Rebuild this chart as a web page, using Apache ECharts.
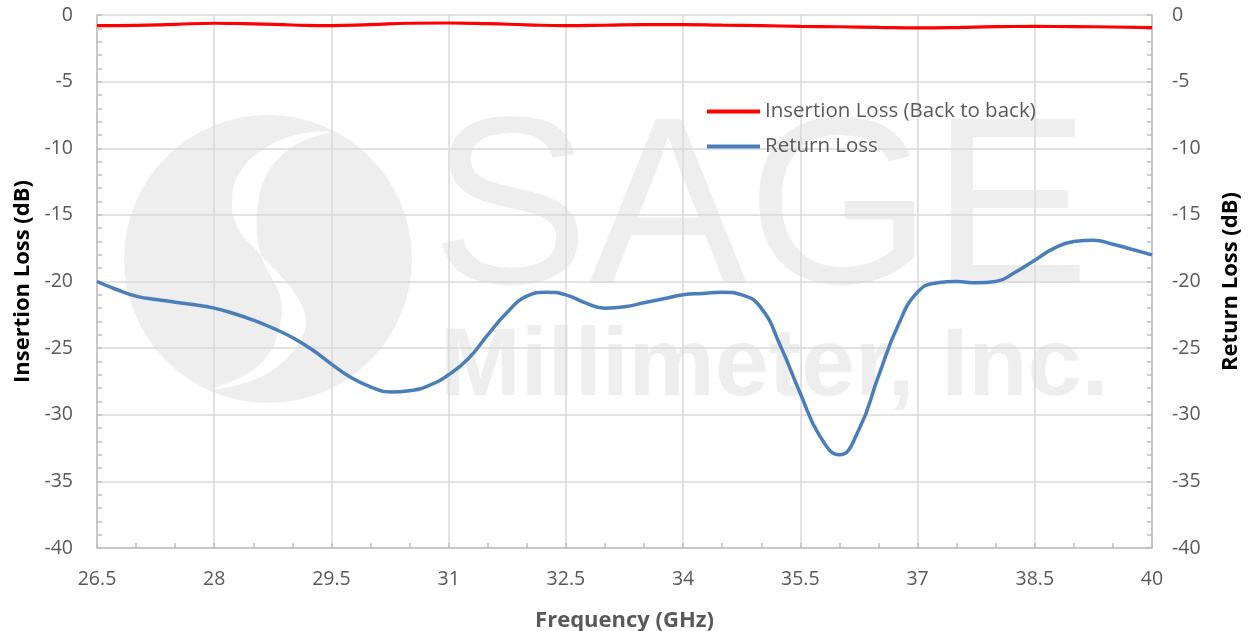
<!DOCTYPE html>
<html>
<head>
<meta charset="utf-8">
<script src="https://cdn.jsdelivr.net/npm/echarts@6/dist/echarts.min.js"></script>
<style>
html,body{margin:0;padding:0;background:#fff;}
#chart{width:1250px;height:631px;}
</style>
</head>
<body>
<div id="chart"></div>
<script>
// Insertion loss readings: frequency (GHz) and value (dB)
const freqsIL = [26.5, 27, 27.5, 28, 28.5, 29, 29.5, 30, 30.5, 31, 31.5, 32, 32.5, 33, 33.5, 34, 34.5, 35, 35.5, 36, 36.5, 37, 37.5, 38, 38.5, 39, 39.5, 40];
const insertionLoss = [-0.8, -0.78, -0.7, -0.62, -0.66, -0.75, -0.8, -0.72, -0.62, -0.6, -0.65, -0.74, -0.8, -0.77, -0.72, -0.72, -0.76, -0.8, -0.85, -0.88, -0.93, -0.97, -0.94, -0.87, -0.86, -0.87, -0.9, -0.94];
// Return loss readings: frequency (GHz) and value (dB)
const freqsRL = [26.5, 26.75, 27, 27.25, 27.5, 27.75, 28, 28.25, 28.5, 28.75, 29, 29.25, 29.5, 29.75, 30, 30.25, 30.5, 30.75, 31, 31.25, 31.5, 31.75, 32, 32.25, 32.5, 32.75, 33, 33.25, 33.5, 33.75, 34, 34.25, 34.5, 34.75, 35, 35.25, 35.5, 35.75, 36, 36.25, 36.5, 36.75, 37, 37.25, 37.5, 37.75, 38, 38.25, 38.5, 38.75, 39, 39.25, 39.5, 39.75, 40];
const returnLoss = [-20.0, -20.6, -21.1, -21.35, -21.55, -21.75, -22.0, -22.4, -22.9, -23.5, -24.2, -25.1, -26.2, -27.2, -27.9, -28.3, -28.2, -27.8, -27.0, -25.8, -24.0, -22.3, -21.1, -20.8, -21.0, -21.6, -22.0, -21.9, -21.6, -21.3, -21.0, -20.9, -20.8, -21.0, -22.0, -24.9, -28.4, -31.6, -33.0, -31.1, -27.1, -23.3, -20.8, -20.1, -20.0, -20.1, -20.0, -19.3, -18.4, -17.5, -17.0, -16.9, -17.2, -17.6, -18.0];

const seriesNames = ['Insertion Loss (Back to back)', 'Return Loss'];
const xTitle = 'Frequency (GHz)';
const yLeftTitle = 'Insertion Loss (dB)';
const yRightTitle = 'Return Loss (dB)';

const FONT = '"Open Sans"';
const labelColor = '#595959';
const gridColor = '#d9d9d9';
const axisColor = '#bfbfbf';

function pairs(xs, ys){ return xs.map((x,i)=>[x, ys[i]]); }

const yAxisCommon = {
  type: 'value', min: -40, max: 0, interval: 5,
  nameLocation: 'middle', nameRotate: 90,
  nameTextStyle: {color: '#000', fontWeight: 'bold', fontSize: 22, fontFamily: FONT},
  axisLine: {show: true, lineStyle: {color: axisColor, width: 1.5}},
  axisTick: {show: true, inside: true, length: 5, lineStyle: {color: axisColor, width: 1.5}},
  minorTick: {show: true, splitNumber: 5, length: 5, lineStyle: {color: axisColor, width: 1.5}},
  axisLabel: {color: labelColor, fontSize: 19.5, fontFamily: FONT},
  splitLine: {show: true, lineStyle: {color: gridColor, width: 1.5}}
};

const chart = echarts.init(document.getElementById('chart'), null, {renderer: 'canvas'});
chart.setOption({
  backgroundColor: '#ffffff',
  animation: false,
  textStyle: {fontFamily: FONT},
  grid: {left: 97, right: 98, top: 15, bottom: 83, containLabel: false, outerBoundsMode: 'none'},
  legend: {
    orient: 'vertical', left: 702, top: 96, itemGap: 14,
    itemWidth: 53, itemHeight: 4, icon: 'rect',
    textStyle: {color: labelColor, fontSize: 20.5, fontFamily: FONT},
    data: seriesNames
  },
  graphic: [
    {type: 'circle', z: -10, silent: true, shape: {cx: 268, cy: 259, r: 144}, style: {fill: '#eeeeee'}},
    {type: 'polygon', z: -9, silent: true, shape: {smooth: 0.4, points: [
      [330,132],[300,134],[265,148],[240,172],[232,200],[238,228],[258,252],[280,275],[298,298],[306,322],[298,344],[278,366],[248,382],[212,389],
      [245,375],[268,355],[280,325],[281,300],[272,278],[262,258],[257,232],[258,205],[265,178],[282,155],[305,140]]},
      style: {fill: '#ffffff'}},
    {type: 'text', z: -8, silent: true, left: 431, top: 99,
      style: {text: 'SAGE', fill: '#eeeeee', font: '237px "Liberation Sans"'}},
    {type: 'text', z: -8, silent: true, left: 440, top: 320,
      style: {text: 'Millimeter, Inc.', fill: '#eeeeee', font: 'bold 97px "Liberation Sans"'}}
  ],
  xAxis: {
    type: 'value', min: 26.5, max: 40, interval: 1.5,
    name: xTitle, nameLocation: 'middle', nameGap: 62,
    nameTextStyle: {color: labelColor, fontWeight: 'bold', fontSize: 22, fontFamily: FONT},
    axisLine: {show: true, onZero: false, lineStyle: {color: axisColor, width: 1.5}},
    axisTick: {show: true, inside: true, length: 5, lineStyle: {color: axisColor, width: 1.5}},
    minorTick: {show: true, splitNumber: 3, length: 5, lineStyle: {color: axisColor, width: 1.5}},
    axisLabel: {color: labelColor, fontSize: 19.5, fontFamily: FONT, margin: 21},
    splitLine: {show: true, lineStyle: {color: gridColor, width: 1.5}}
  },
  yAxis: [
    Object.assign({}, yAxisCommon, {position: 'left', name: yLeftTitle, nameGap: 57,
      axisLabel: Object.assign({}, yAxisCommon.axisLabel, {margin: 24})}),
    Object.assign({}, yAxisCommon, {position: 'right', name: yRightTitle, nameGap: 68,
      axisLabel: Object.assign({}, yAxisCommon.axisLabel, {margin: 20}),
      splitLine: {show: false}})
  ],
  series: [
    {name: seriesNames[0], type: 'line', yAxisIndex: 0, smooth: 0.5, showSymbol: false,
      data: pairs(freqsIL, insertionLoss), lineStyle: {color: '#ff0000', width: 3.2}, itemStyle: {color: '#ff0000'}, z: 3},
    {name: seriesNames[1], type: 'line', yAxisIndex: 1, smooth: 0.5, showSymbol: false,
      data: pairs(freqsRL, returnLoss), lineStyle: {color: '#4a7ebb', width: 3.5}, itemStyle: {color: '#4a7ebb'}, z: 2}
  ]
});
</script>
</body>
</html>
